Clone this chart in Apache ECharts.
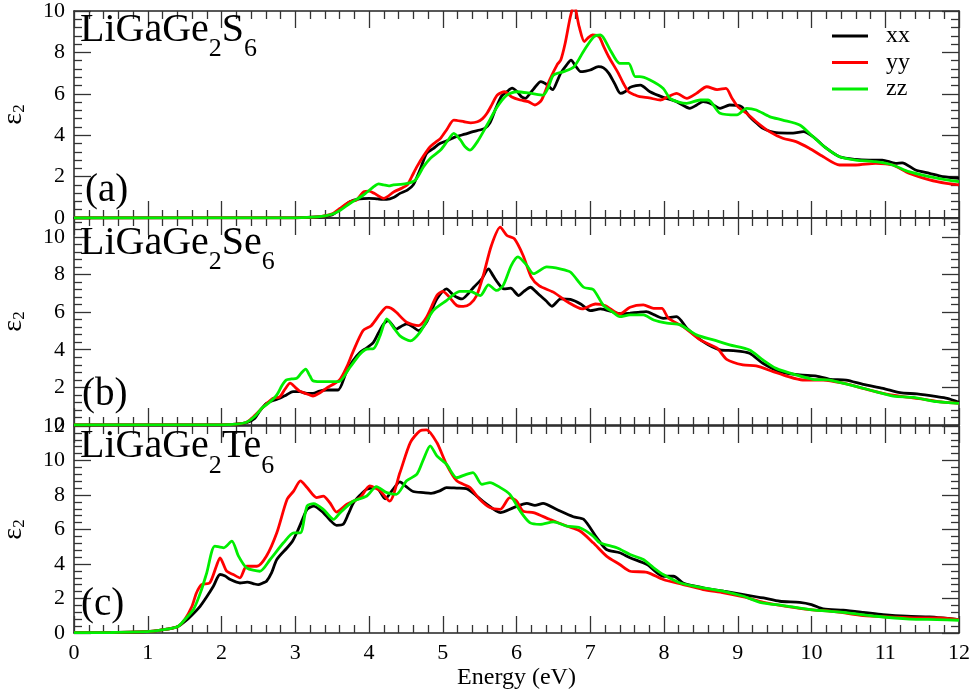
<!DOCTYPE html>
<html>
<head>
<meta charset="utf-8">
<script src="https://cdn.jsdelivr.net/npm/echarts@6/dist/echarts.min.js"></script>
<style>
html,body{margin:0;padding:0;background:#fff;}
#chart{width:973px;height:694px;}
</style>
</head>
<body>
<div id="chart"></div>
<script>
// ---- Data (Energy eV, epsilon_2) ----
const seriesNames = ['xx', 'yy', 'zz'];
const panelTitles = ['LiGaGe{s|2}S{s|6}', 'LiGaGe{s|2}Se{s|6}', 'LiGaGe{s|2}Te{s|6}'];
const panelLabels = ['(a)', '(b)', '(c)'];
const yMaxes = [10, 11, 12];

const aXX = [[0,0],[3.0,0.01],[3.3,0.05],[3.5,0.15],[3.62,0.45],[3.74,0.78],[3.87,0.92],[4.0,0.95],[4.12,0.92],[4.24,0.9],[4.34,1.0],[4.42,1.19],[4.52,1.35],[4.6,1.6],[4.7,2.4],[4.78,3.12],[4.87,3.35],[4.96,3.6],[5.07,3.75],[5.18,3.93],[5.3,4.05],[5.41,4.17],[5.5,4.25],[5.57,4.33],[5.64,4.6],[5.72,5.3],[5.8,5.9],[5.87,6.1],[5.94,6.27],[6.01,6.1],[6.07,5.85],[6.12,5.78],[6.18,6.0],[6.24,6.27],[6.33,6.59],[6.41,6.45],[6.49,6.2],[6.55,6.6],[6.6,7.0],[6.67,7.35],[6.74,7.63],[6.8,7.35],[6.87,7.07],[6.94,7.1],[7.0,7.15],[7.11,7.31],[7.18,7.25],[7.25,7.0],[7.33,6.5],[7.41,6.02],[7.47,6.1],[7.54,6.31],[7.62,6.4],[7.68,6.42],[7.81,6.1],[7.99,5.83],[8.17,5.62],[8.35,5.3],[8.44,5.45],[8.53,5.62],[8.65,5.5],[8.76,5.3],[8.89,5.46],[9.05,5.38],[9.16,4.9],[9.25,4.6],[9.34,4.33],[9.52,4.12],[9.75,4.1],[9.89,4.17],[10.02,3.93],[10.2,3.37],[10.38,2.96],[10.6,2.83],[10.78,2.8],[10.96,2.8],[11.14,2.64],[11.23,2.66],[11.41,2.32],[11.6,2.16],[11.78,2.0],[12,1.92]];
const aYY = [[0,0],[3.0,0.01],[3.3,0.05],[3.5,0.2],[3.6,0.45],[3.74,0.79],[3.83,0.87],[3.93,1.27],[4.0,1.3],[4.07,1.19],[4.2,0.95],[4.34,1.27],[4.45,1.45],[4.52,1.6],[4.58,2.0],[4.65,2.48],[4.74,3.0],[4.83,3.44],[4.9,3.65],[4.97,3.85],[5.06,4.3],[5.15,4.73],[5.29,4.65],[5.38,4.6],[5.47,4.65],[5.54,4.8],[5.6,5.06],[5.67,5.5],[5.74,5.94],[5.84,6.1],[5.93,5.86],[6.05,5.7],[6.16,5.62],[6.25,5.46],[6.34,5.7],[6.45,6.67],[6.55,7.4],[6.6,7.63],[6.66,8.44],[6.73,9.72],[6.78,10.3],[6.85,9.24],[6.92,8.52],[6.97,8.7],[7.03,8.84],[7.12,8.76],[7.18,8.3],[7.25,7.79],[7.38,7.0],[7.45,6.5],[7.52,6.1],[7.6,5.95],[7.67,5.86],[7.8,5.8],[7.95,5.7],[8.05,5.85],[8.17,6.02],[8.31,5.78],[8.44,6.02],[8.58,6.34],[8.72,6.2],[8.84,6.26],[8.92,5.8],[9.0,5.38],[9.12,5.06],[9.25,4.65],[9.43,4.17],[9.61,3.85],[9.79,3.69],[9.97,3.37],[10.16,2.96],[10.38,2.56],[10.6,2.56],[10.87,2.64],[11.1,2.56],[11.32,2.16],[11.6,1.84],[11.83,1.67],[12,1.6]];
const aZZ = [[0,0],[3.0,0.01],[3.3,0.05],[3.5,0.18],[3.62,0.4],[3.74,0.7],[3.92,1.1],[4.06,1.5],[4.13,1.65],[4.2,1.6],[4.27,1.55],[4.33,1.6],[4.42,1.62],[4.52,1.67],[4.63,1.84],[4.74,2.48],[4.83,2.88],[4.97,3.28],[5.06,3.7],[5.15,4.09],[5.24,3.77],[5.3,3.45],[5.37,3.28],[5.47,3.69],[5.6,4.49],[5.74,5.38],[5.87,5.94],[6.0,6.1],[6.2,6.02],[6.36,5.94],[6.43,6.3],[6.5,6.9],[6.64,7.07],[6.78,7.31],[6.92,8.12],[7.05,8.76],[7.14,8.84],[7.27,8.12],[7.4,7.47],[7.52,7.47],[7.61,6.83],[7.67,6.83],[7.81,6.67],[7.99,6.26],[8.08,5.78],[8.2,5.6],[8.31,5.54],[8.49,5.7],[8.6,5.7],[8.76,5.06],[8.99,4.98],[9.12,5.3],[9.25,5.22],[9.43,4.9],[9.61,4.73],[9.84,4.49],[10.02,3.93],[10.2,3.37],[10.38,2.96],[10.6,2.8],[10.87,2.72],[11.1,2.56],[11.32,2.24],[11.6,2.0],[11.83,1.84],[12,1.76]];

const bXX = [[0,0],[2.0,0.01],[2.2,0.05],[2.34,0.12],[2.45,0.35],[2.52,0.75],[2.61,1.15],[2.7,1.3],[2.79,1.42],[2.88,1.6],[2.97,1.77],[3.06,1.77],[3.16,1.68],[3.24,1.68],[3.33,1.8],[3.42,1.86],[3.58,1.86],[3.69,2.79],[3.78,3.4],[3.88,3.86],[3.97,4.1],[4.06,4.39],[4.13,4.9],[4.2,5.37],[4.26,5.55],[4.37,5.1],[4.44,5.25],[4.51,5.37],[4.6,5.2],[4.67,5.02],[4.78,5.46],[4.85,6.1],[4.92,6.7],[5.05,7.23],[5.15,6.88],[5.26,6.7],[5.35,7.0],[5.42,7.32],[5.53,7.77],[5.62,8.3],[5.68,7.95],[5.74,7.59],[5.83,7.23],[5.92,7.27],[6.03,6.88],[6.1,7.1],[6.19,7.32],[6.26,7.1],[6.32,6.88],[6.4,6.6],[6.48,6.31],[6.6,6.7],[6.73,6.67],[6.87,6.43],[7.0,6.08],[7.14,6.17],[7.32,5.99],[7.45,5.9],[7.54,5.94],[7.65,5.99],[7.76,6.03],[7.87,5.85],[7.99,5.67],[8.17,5.76],[8.31,5.14],[8.53,4.43],[8.76,3.99],[8.94,3.95],[9.16,3.81],[9.34,3.28],[9.57,2.84],[9.84,2.66],[10.07,2.6],[10.25,2.43],[10.47,2.39],[10.7,2.16],[10.97,1.95],[11.2,1.72],[11.43,1.65],[11.7,1.51],[11.84,1.42],[12,1.21]];
const bYY = [[0,0],[2.0,0.01],[2.2,0.05],[2.34,0.15],[2.45,0.5],[2.57,0.97],[2.7,1.42],[2.79,1.5],[2.86,1.9],[2.93,2.22],[3.0,2.0],[3.06,1.8],[3.16,1.65],[3.24,1.54],[3.33,1.7],[3.42,1.95],[3.6,2.39],[3.7,3.1],[3.78,3.86],[3.92,5.02],[4.03,5.28],[4.15,5.9],[4.24,6.26],[4.3,6.2],[4.37,5.99],[4.51,5.46],[4.67,5.28],[4.78,5.73],[4.92,6.88],[5.0,7.1],[5.07,6.88],[5.19,6.35],[5.28,6.3],[5.37,6.43],[5.46,6.88],[5.55,7.95],[5.66,9.54],[5.78,10.51],[5.87,10.07],[5.97,9.9],[6.09,9.01],[6.2,7.86],[6.31,7.39],[6.5,7.06],[6.7,6.52],[6.89,6.17],[7.07,6.43],[7.2,6.35],[7.4,5.9],[7.54,6.26],[7.72,6.38],[7.86,6.2],[7.97,6.2],[8.06,5.67],[8.26,5.23],[8.49,4.52],[8.72,4.08],[8.85,3.49],[9.07,3.19],[9.25,3.14],[9.48,2.84],[9.66,2.6],[9.88,2.39],[10.16,2.39],[10.43,2.22],[10.7,1.95],[10.97,1.68],[11.24,1.51],[11.51,1.38],[11.78,1.21],[12,1.15]];
const bZZ = [[0,0],[2.0,0.01],[2.2,0.05],[2.34,0.15],[2.45,0.45],[2.55,0.9],[2.65,1.2],[2.75,1.6],[2.82,2.1],[2.88,2.4],[2.95,2.45],[3.02,2.48],[3.08,2.75],[3.14,2.97],[3.2,2.6],[3.24,2.35],[3.33,2.3],[3.43,2.3],[3.59,2.3],[3.74,3.06],[3.88,3.77],[3.97,4.03],[4.06,4.05],[4.15,4.74],[4.24,5.64],[4.33,5.19],[4.42,4.74],[4.56,4.47],[4.69,4.92],[4.87,6.08],[5.05,6.61],[5.23,7.1],[5.37,7.1],[5.51,6.88],[5.62,7.45],[5.73,7.15],[5.82,7.42],[5.93,8.48],[6.02,8.93],[6.14,8.48],[6.23,8.04],[6.41,8.4],[6.59,8.3],[6.73,8.13],[6.91,7.32],[7.04,7.2],[7.18,6.35],[7.31,5.99],[7.4,5.76],[7.54,5.85],[7.72,5.85],[7.86,5.58],[8.04,5.41],[8.22,5.32],[8.44,4.79],[8.67,4.52],[8.89,4.26],[9.16,3.99],[9.34,3.46],[9.52,3.01],[9.79,2.66],[10.02,2.43],[10.25,2.39],[10.52,2.13],[10.79,1.86],[11.11,1.54],[11.38,1.47],[11.7,1.24],[12,1.15]];

const cXX = [[0,0.02],[0.5,0.03],[1.03,0.09],[1.26,0.22],[1.41,0.38],[1.5,0.65],[1.6,1.05],[1.71,1.55],[1.8,2.1],[1.89,2.71],[1.98,3.39],[2.05,3.3],[2.12,3.1],[2.25,2.9],[2.35,2.95],[2.44,2.85],[2.5,2.8],[2.56,2.9],[2.61,3.0],[2.68,3.5],[2.75,4.26],[2.89,4.94],[2.96,5.3],[3.03,5.9],[3.1,6.6],[3.16,7.17],[3.25,7.36],[3.38,6.98],[3.47,6.55],[3.56,6.24],[3.65,6.3],[3.72,6.9],[3.79,7.55],[3.88,8.0],[3.97,8.33],[4.1,8.43],[4.22,7.78],[4.32,8.3],[4.42,8.76],[4.5,8.5],[4.6,8.2],[4.74,8.14],[4.84,8.1],[4.96,8.24],[5.05,8.43],[5.19,8.4],[5.32,8.37],[5.46,7.94],[5.6,7.46],[5.78,6.98],[5.96,7.27],[6.14,7.52],[6.25,7.4],[6.36,7.52],[6.54,7.17],[6.77,6.74],[6.91,6.59],[7.09,5.52],[7.22,4.84],[7.4,4.65],[7.54,4.36],[7.77,3.97],[7.99,3.29],[8.13,3.29],[8.26,2.9],[8.53,2.62],[8.81,2.42],[9.08,2.23],[9.35,2.03],[9.57,1.84],[9.84,1.78],[10.0,1.65],[10.16,1.4],[10.43,1.32],[10.7,1.2],[10.97,1.07],[11.29,0.97],[11.6,0.93],[11.78,0.87],[12,0.78]];
const cYY = [[0,0.02],[0.5,0.03],[1.03,0.09],[1.26,0.22],[1.41,0.38],[1.5,0.77],[1.6,1.55],[1.66,2.32],[1.73,2.8],[1.84,2.9],[1.93,3.87],[1.98,4.36],[2.07,3.58],[2.16,3.39],[2.25,3.2],[2.34,3.87],[2.48,3.87],[2.61,4.46],[2.75,5.81],[2.89,7.75],[2.98,8.24],[3.07,8.82],[3.16,8.43],[3.29,7.85],[3.38,7.94],[3.47,7.55],[3.56,7.01],[3.7,7.46],[3.88,7.85],[4.01,8.53],[4.15,8.24],[4.28,7.65],[4.42,9.3],[4.56,11.04],[4.69,11.72],[4.78,11.78],[4.92,11.04],[5.05,9.78],[5.19,8.82],[5.37,8.43],[5.5,7.75],[5.64,7.27],[5.78,7.17],[5.91,7.85],[6.0,7.65],[6.09,7.07],[6.23,6.98],[6.45,6.59],[6.68,6.2],[6.86,5.91],[7.04,5.23],[7.22,4.46],[7.4,3.97],[7.54,3.58],[7.77,3.52],[7.99,3.1],[8.26,2.81],[8.53,2.52],[8.81,2.33],[9.08,2.09],[9.35,1.78],[9.66,1.55],[9.98,1.36],[10.34,1.23],[10.7,1.01],[11.06,0.93],[11.43,0.87],[11.74,0.87],[12,0.78]];
const cZZ = [[0,0.02],[0.5,0.03],[1.03,0.09],[1.26,0.22],[1.41,0.38],[1.5,0.77],[1.62,1.36],[1.72,2.4],[1.8,3.49],[1.91,5.04],[2.03,4.94],[2.14,5.33],[2.23,4.46],[2.34,3.78],[2.52,3.58],[2.66,4.26],[2.84,5.23],[2.98,5.81],[3.07,5.81],[3.16,7.36],[3.25,7.5],[3.38,7.17],[3.52,6.59],[3.61,6.98],[3.79,7.65],[3.97,7.94],[4.1,8.49],[4.24,8.14],[4.37,8.04],[4.51,8.82],[4.65,9.21],[4.74,10.08],[4.83,10.85],[4.92,10.27],[5.05,9.78],[5.19,9.0],[5.32,9.2],[5.41,9.3],[5.53,8.62],[5.64,8.72],[5.78,8.43],[5.91,8.04],[6.05,7.07],[6.18,6.4],[6.32,6.3],[6.5,6.44],[6.68,6.2],[6.86,6.1],[7.04,5.62],[7.13,5.23],[7.36,4.94],[7.54,4.55],[7.72,4.26],[7.86,3.78],[7.99,3.39],[8.22,2.9],[8.53,2.62],[8.81,2.42],[9.08,2.13],[9.3,1.78],[9.62,1.59],[9.98,1.36],[10.43,1.2],[10.88,0.97],[11.33,0.81],[11.7,0.78],[12,0.74]];

const panelData = [[aXX, aYY, aZZ], [bXX, bYY, bZZ], [cXX, cYY, cZZ]];
const colors = ['#000000', '#ff0000', '#00ee00'];

// ---- Layout ----
const FONT = 'Liberation Serif';
const gridTops = [11, 218, 426];
const gridH = 207;
const titleTops = [-2, 211.4, 414.8];
const labelPos = [[85, 172], [82, 376], [81, 586]];

const tickLine = {color: '#333', width: 1.3};
function xAx(i, pos) {
  return {
    type: 'value', gridIndex: i, position: pos, min: 0, max: 12, interval: 1,
    axisLine: {show: true, onZero: false, lineStyle: {color: '#222', width: 1.5}},
    axisTick: {show: true, inside: true, length: 17, lineStyle: tickLine},
    minorTick: {show: true, splitNumber: 5, length: 8, lineStyle: tickLine},
    splitLine: {show: false}, minorSplitLine: {show: false},
    axisLabel: {show: (i === 2 && pos === 'bottom'), fontFamily: FONT, fontSize: 22, color: '#000', margin: 9},
    name: (i === 2 && pos === 'bottom') ? 'Energy (eV)' : '',
    nameLocation: 'middle', nameGap: 33,
    nameTextStyle: {fontFamily: FONT, fontSize: 24, color: '#000'}
  };
}
function yAx(i, pos) {
  const left = pos === 'left';
  return {
    type: 'value', gridIndex: i, position: pos, min: 0, max: yMaxes[i], interval: 2,
    axisLine: {show: true, onZero: false, lineStyle: {color: '#222', width: 1.5}},
    axisTick: {show: true, inside: true, length: 17, lineStyle: tickLine},
    minorTick: {show: true, splitNumber: 5, length: 8, lineStyle: tickLine},
    splitLine: {show: false}, minorSplitLine: {show: false},
    axisLabel: {show: left, fontFamily: FONT, fontSize: 22, color: '#000', margin: 9,
      showMaxLabel: i !== 1},
    name: left ? 'ε{s|2}' : '',
    nameLocation: 'middle', nameGap: 46, nameRotate: 90,
    nameTextStyle: {fontFamily: FONT, fontSize: 28, color: '#000',
      rich: {s: {fontFamily: FONT, fontSize: 17, color: '#000', verticalAlign: 'bottom', lineHeight: 14}}}
  };
}

const grids = [], xAxes = [], yAxes = [], series = [], titles = [];
for (let i = 0; i < 3; i++) {
  grids.push({left: 74, right: 14, top: gridTops[i], height: gridH, containLabel: false, outerBoundsMode: 'none'});
  xAxes.push(xAx(i, 'bottom'));
  xAxes.push(xAx(i, 'top'));
  yAxes.push(yAx(i, 'left'));
  yAxes.push(yAx(i, 'right'));
  for (let k = 0; k < 3; k++) {
    series.push({
      name: seriesNames[k], type: 'line', xAxisIndex: i * 2, yAxisIndex: i * 2,
      data: panelData[i][k], showSymbol: false, symbol: 'none', smooth: 0.25,
      lineStyle: {color: colors[k], width: 2.8}, itemStyle: {color: colors[k]},
      clip: true, z: 2 + k, animation: false
    });
  }
  titles.push({
    text: panelTitles[i], left: 80, top: titleTops[i], padding: 0,
    textStyle: {fontFamily: FONT, fontSize: 40, fontWeight: 'normal', color: '#000', lineHeight: 64,
      rich: {s: {fontFamily: FONT, fontSize: 26, color: '#000', verticalAlign: 'bottom', lineHeight: 26}}}
  });
  titles.push({
    text: panelLabels[i], left: labelPos[i][0], top: labelPos[i][1], padding: 0,
    textStyle: {fontFamily: FONT, fontSize: 39, fontWeight: 'normal', color: '#000', lineHeight: 38}
  });
}

const chart = echarts.init(document.getElementById('chart'), null, {renderer: 'canvas'});
chart.setOption({
  backgroundColor: '#ffffff',
  animation: false,
  title: titles,
  legend: {
    data: seriesNames, orient: 'vertical', left: 827, top: 19, padding: 5,
    icon: 'rect', itemWidth: 36, itemHeight: 3, itemGap: 2.5,
    textStyle: {fontFamily: FONT, fontSize: 24, color: '#000', lineHeight: 20, padding: [0, 0, 0, 13]}
  },
  grid: grids,
  xAxis: xAxes,
  yAxis: yAxes,
  series: series
});
</script>
</body>
</html>
